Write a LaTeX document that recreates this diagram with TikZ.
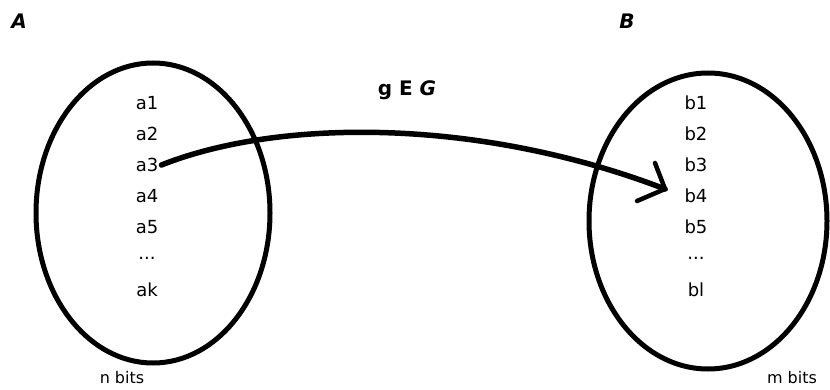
\documentclass[tikz,border=0pt]{standalone}
\usepackage{fontspec}
\setmainfont{DejaVu Sans}
\begin{document}
\begin{tikzpicture}[x=1pt,y=-1pt,
  elem/.style={font=\fontsize{18}{21}\selectfont,inner sep=0pt,anchor=center},
  setname/.style={font=\fontsize{20}{24}\selectfont\bfseries\itshape,inner sep=0pt},
  bitlbl/.style={font=\fontsize{16}{19}\selectfont,inner sep=0pt},
  maparrow/.style={line width=5.5pt,line cap=round}]
\useasboundingbox (0,0) rectangle (830,390);
\fill[white] (0,0) rectangle (830,390);
% ellipses
\draw[line width=5pt] (153,213) ellipse [x radius=117, y radius=150];
\draw[line width=5pt] (708,221) ellipse [x radius=119, y radius=148];
\coordinate (ovA) at (153,213);
\coordinate (ovB) at (708,221);
% labels
\node[setname] (A) at (19,21) {A};
\node[setname] (B) at (627,21) {B};
\node[font=\fontsize{20}{24}\selectfont\bfseries,inner sep=0pt] (g) at (407,90) {g E \textit{G}};
% left elements
\foreach \t/\y [count=\i] in {a1/103,a2/134,a3/165,a4/196,a5/227,{...}/258,ak/290}
  \node[elem] (a\i) at (147,\y) {\t};
% right elements
\foreach \t/\y [count=\i] in {b1/103,b2/134,b3/165,b4/196,b5/227,{...}/258,bl/290}
  \node[elem] (b\i) at (696,\y) {\t};
\node[bitlbl] (n) at (122,378) {n bits};
\node[bitlbl] (m) at (792,378) {m bits};
% arrow
\coordinate (tip) at (665,189);
\coordinate (armup) at (655,163);
\coordinate (armdn) at (637,201);
\draw[maparrow] ([xshift=3pt]a3.east) .. controls (280,118) and (480,118) .. (tip);
\draw[line width=4.5pt,line cap=round] (armup) -- (tip) -- (armdn);
\end{tikzpicture}
\end{document}
